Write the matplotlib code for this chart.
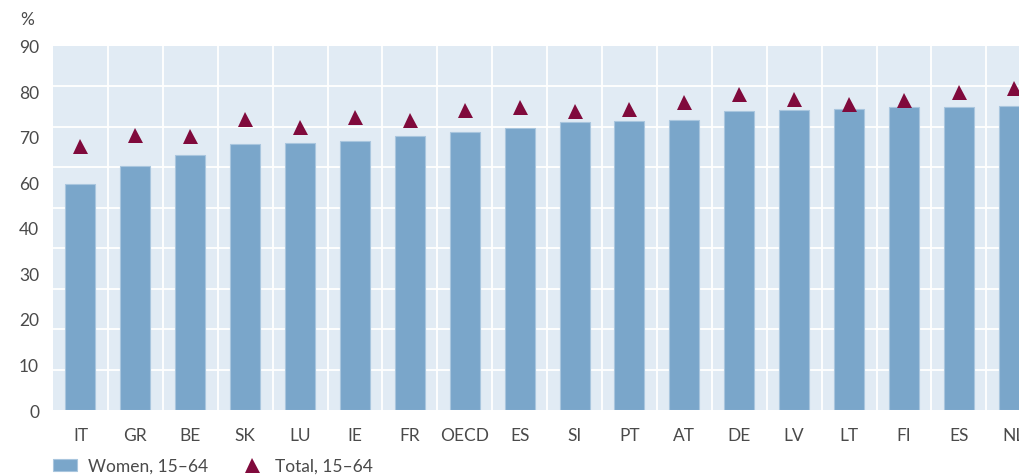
import matplotlib
matplotlib.use("Agg")
import matplotlib.pyplot as plt
from matplotlib.patches import Patch
from matplotlib.lines import Line2D
import numpy as np

plt.rcParams['font.family'] = ['Lato', 'DejaVu Sans']

categories = ["IT", "GR", "BE", "SK", "LU", "IE", "FR", "OECD", "ES", "SI",
              "PT", "AT", "DE", "LV", "LT", "FI", "ES", "NL"]
women_15_64 = [55.9, 60.3, 63.1, 65.8, 66.1, 66.4, 67.8, 68.7, 69.7, 71.1,
               71.5, 71.7, 73.9, 74.2, 74.5, 74.8, 74.8, 75.2]
total_15_64 = [65.2, 68.0, 67.8, 72.0, 70.0, 72.4, 71.6, 74.2, 74.9, 74.0,
               74.5, 76.2, 78.1, 76.8, 75.7, 76.7, 78.6, 79.5]
ytick_labels = ["0", "10", "20", "30", "40", "60", "70", "80", "90"]

BAR = "#7aa6ca"
BAR_EDGE = "#a9c6de"
BG = "#e1ebf4"
TRI = "#800a3c"
TXT = "#4a4a4a"

W, H = 1019, 477
fig = plt.figure(figsize=(W / 100, H / 100), dpi=100)
ax = fig.add_axes([53 / W, 1 - 411 / H, (W - 53) / W, (411 - 47) / H])
ax.set_facecolor(BG)

x = np.arange(len(categories))
ax.set_xlim(-0.5, -0.5 + 966 / 54.9)
ax.set_ylim(0, 90)

# grid
for g in np.arange(10, 90, 10):
    ax.axhline(g, color="white", lw=1.3, zorder=1)
for v in np.arange(0.5, len(categories), 1):
    ax.axvline(v, color="white", lw=1.3, zorder=1)

ax.bar(x, women_15_64, width=0.546, color=BAR, edgecolor=BAR_EDGE, linewidth=0.8, zorder=2)
ax.plot(x, total_15_64, linestyle="none", marker="^", markersize=10.8, color=TRI,
        markeredgewidth=0, zorder=3)

for s in ax.spines.values():
    s.set_visible(False)

ax.set_xticks(x)
ax.set_xticklabels(categories)
ax.set_yticks(np.linspace(0, 90, 9))
ax.set_yticklabels(ytick_labels)
ax.tick_params(axis="both", length=0, labelsize=12.5, colors=TXT)
ax.tick_params(axis="x", pad=12)
ax.tick_params(axis="y", pad=10)

fig.text(27 / W, 1 - 20 / H, "%", ha="center", va="center", fontsize=12.5, color=TXT)

handles = [Patch(facecolor=BAR, edgecolor=BAR_EDGE, linewidth=0.8),
           Line2D([], [], linestyle="none", marker="^", markersize=10.8, color=TRI, markeredgewidth=0)]
fig.legend(handles, ["Women, 15–64", "Total, 15–64"], loc="center left",
           bbox_to_anchor=(53 / W, 1 - 467 / H), ncol=2, frameon=False,
           fontsize=12.5, labelcolor=TXT, handlelength=1.4, handleheight=0.72,
           handletextpad=0.6, columnspacing=1.85, borderpad=0, borderaxespad=0)

fig.savefig("out.png", dpi=100)
